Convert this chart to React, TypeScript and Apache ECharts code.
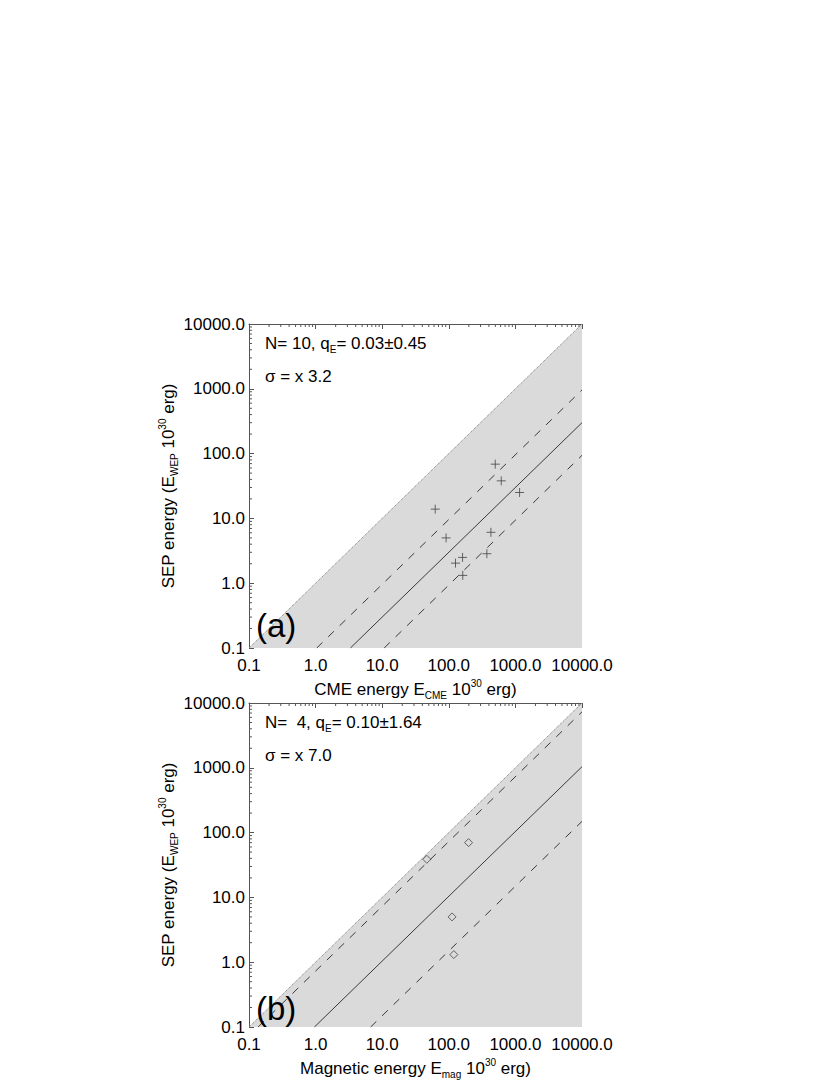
import { useEffect, useRef } from 'react'
import * as echarts from 'echarts'

// log axis decades and the minor steps inside each decade
const decades = [0.1, 1, 10, 100, 1000, 10000]
const minorSteps = [2, 3, 4, 5, 6, 7, 8, 9]

// panel (a): CME energy vs SEP energy (10^30 erg)
const cmeEnergy = [62.5, 91, 126, 161, 162, 373, 429, 498, 613, 1156]
const sepEnergyA = [13.9, 5.0, 2.04, 2.5, 1.32, 2.85, 6.1, 68.7, 38, 25.1]

// panel (b): magnetic energy vs SEP energy (10^30 erg)
const magEnergy = [46.8, 198, 112, 119]
const sepEnergyB = [38.7, 70, 5.0, 1.31]

// y = x line and the shaded region under it
const unityLine = [[0.1, 0.1], [10000, 10000]]
const shadeTriangle = [[0.1, 0.1], [10000, 10000], [10000, 0.1]]

// fit line and the +/- sigma lines, end points
const fitLineA = [[3.33, 0.1], [10000, 300]]
const upperLineA = [[1.04, 0.1], [10000, 960]]
const lowerLineA = [[10.7, 0.1], [10000, 94]]
const fitLineB = [[0.96, 0.1], [10000, 1040]]
const upperLineB = [[0.137, 0.1], [10000, 7300]]
const lowerLineB = [[6.7, 0.1], [10000, 149]]

const FONT = '"Liberation Sans", Arial, Helvetica, sans-serif'
const AXIS_COLOR = '#555'
const LINE_COLOR = '#3a3a3a'

const rich = {
  sub: { fontSize: 10, fontFamily: FONT, color: '#000', fill: '#000', verticalAlign: 'bottom' },
  sup: { fontSize: 10, fontFamily: FONT, color: '#000', fill: '#000', verticalAlign: 'top' },
}

const minorTickValues: number[] = []
decades.slice(0, -1).forEach(d => minorSteps.forEach(m => minorTickValues.push(d * m)))

interface Panel {
  top: number
  xs: number[]
  ys: number[]
  symbol: string
  symbolSize: number
  fit: number[][]
  upper: number[][]
  lower: number[][]
  xName: string
  stats: string
  sigma: string
  tag: string
  tagY: number
}

const panels: Panel[] = [
  {
    top: 324,
    xs: cmeEnergy,
    ys: sepEnergyA,
    symbol: 'path://M0,5L10,5M5,0L5,10',
    symbolSize: 9,
    fit: fitLineA,
    upper: upperLineA,
    lower: lowerLineA,
    xName: 'CME energy E{sub|CME} 10{sup|30} erg)',
    stats: 'N= 10, q{sub|E}= 0.03±0.45',
    sigma: 'σ = x 3.2',
    tag: '(a)',
    tagY: 625,
  },
  {
    top: 703,
    xs: magEnergy,
    ys: sepEnergyB,
    symbol: 'diamond',
    symbolSize: 8,
    fit: fitLineB,
    upper: upperLineB,
    lower: lowerLineB,
    xName: 'Magnetic energy E{sub|mag} 10{sup|30} erg)',
    stats: 'N=  4, q{sub|E}= 0.10±1.64',
    sigma: 'σ = x 7.0',
    tag: '(b)',
    tagY: 1008,
  },
]

const GRID_LEFT = 249
const GRID_W = 333
const GRID_H = 324

export default function App() {
  const chartRef = useRef<HTMLDivElement>(null)

  useEffect(() => {
    if (!chartRef.current) return
    const chart = echarts.init(chartRef.current, null, { renderer: 'svg' })

    const grids: any[] = []
    const xAxes: any[] = []
    const yAxes: any[] = []
    const series: any[] = []
    const graphics: any[] = []

    panels.forEach((p, i) => {
      grids.push({
        left: GRID_LEFT,
        top: p.top,
        width: GRID_W,
        height: GRID_H,
        containLabel: false,
        outerBoundsMode: 'none',
      })

      // bottom axis: labels only, its line is hidden under the shading
      xAxes.push({
        type: 'log',
        gridIndex: i,
        position: 'bottom',
        min: decades[0],
        max: decades[decades.length - 1],
        axisLine: { show: false },
        axisTick: { show: false },
        splitLine: { show: false },
        axisLabel: {
          margin: 9,
          fontSize: 17,
          fontFamily: FONT,
          color: '#000',
          formatter: (v: number) => v.toFixed(1),
        },
        name: p.xName,
        nameLocation: 'middle',
        nameGap: 30,
        nameTextStyle: { fontSize: 17, fontFamily: FONT, color: '#000', lineHeight: 22, rich },
      })
      // top axis: line and ticks
      xAxes.push({
        type: 'log',
        gridIndex: i,
        position: 'top',
        min: decades[0],
        max: decades[decades.length - 1],
        axisLine: { show: true, lineStyle: { color: AXIS_COLOR, width: 1 } },
        axisTick: { show: true, inside: true, length: 5, lineStyle: { color: AXIS_COLOR } },
        axisLabel: { show: false },
        splitLine: { show: false },
      })
      yAxes.push({
        type: 'log',
        gridIndex: i,
        position: 'left',
        min: decades[0],
        max: decades[decades.length - 1],
        axisLine: { show: true, lineStyle: { color: AXIS_COLOR, width: 1 } },
        axisTick: { show: true, inside: true, length: 5, lineStyle: { color: AXIS_COLOR } },
        splitLine: { show: false },
        axisLabel: {
          margin: 4,
          fontSize: 17,
          fontFamily: FONT,
          color: '#000',
          formatter: (v: number) => v.toFixed(1),
        },
        name: 'SEP energy (E{sub|WEP} 10{sup|30} erg)',
        nameLocation: 'middle',
        nameGap: 70,
        nameTextStyle: { fontSize: 17, fontFamily: FONT, color: '#000', lineHeight: 22, rich },
      })

      const xIdx = i * 2
      const yIdx = i

      // shaded region below y = x
      series.push({
        type: 'custom',
        xAxisIndex: xIdx,
        yAxisIndex: yIdx,
        z: 1,
        silent: true,
        data: shadeTriangle,
        renderItem: (params: any, api: any) => {
          if (params.dataIndex !== 0) return
          return {
            type: 'polygon',
            shape: { points: shadeTriangle.map(pt => api.coord(pt)) },
            style: { fill: '#dadada', stroke: 'none' },
          }
        },
      })

      // minor ticks on top and left axes
      series.push({
        type: 'custom',
        xAxisIndex: xIdx,
        yAxisIndex: yIdx,
        z: 3,
        silent: true,
        data: minorTickValues.map(v => [v, v]),
        renderItem: (_params: any, api: any) => {
          const v = api.value(0)
          const t = api.coord([v, decades[decades.length - 1]])
          const l = api.coord([decades[0], v])
          const style = { stroke: AXIS_COLOR, lineWidth: 1 }
          return {
            type: 'group',
            children: [
              { type: 'line', shape: { x1: t[0], y1: t[1], x2: t[0], y2: t[1] + 3 }, style },
              { type: 'line', shape: { x1: l[0], y1: l[1], x2: l[0] + 3, y2: l[1] }, style },
            ],
          }
        },
      })

      series.push({
        type: 'line',
        xAxisIndex: xIdx,
        yAxisIndex: yIdx,
        z: 2,
        data: unityLine,
        showSymbol: false,
        silent: true,
        lineStyle: { color: '#777', width: 1, type: 'dotted' },
      })
      series.push({
        type: 'line',
        xAxisIndex: xIdx,
        yAxisIndex: yIdx,
        z: 3,
        data: p.fit,
        showSymbol: false,
        silent: true,
        lineStyle: { color: LINE_COLOR, width: 1 },
      })
      ;[p.upper, p.lower].forEach(d => {
        series.push({
          type: 'line',
          xAxisIndex: xIdx,
          yAxisIndex: yIdx,
          z: 3,
          data: d,
          showSymbol: false,
          silent: true,
          lineStyle: { color: LINE_COLOR, width: 1, type: [8, 8] },
        })
      })
      series.push({
        type: 'scatter',
        xAxisIndex: xIdx,
        yAxisIndex: yIdx,
        z: 4,
        symbol: p.symbol,
        symbolSize: p.symbolSize,
        data: p.xs.map((x, k) => [x, p.ys[k]]),
        itemStyle: { color: 'transparent', borderColor: '#444', borderWidth: 1 },
      })

      graphics.push(
        {
          type: 'text',
          x: 265,
          y: p.top + 19,
          z: 10,
          style: {
            text: p.stats,
            fontSize: 17,
            fontFamily: FONT,
            fill: '#000',
            lineHeight: 22,
            verticalAlign: 'middle',
            rich,
          },
        },
        {
          type: 'text',
          x: 265,
          y: p.top + 52,
          z: 10,
          style: { text: p.sigma, fontSize: 17, fontFamily: FONT, fill: '#000', verticalAlign: 'middle' },
        },
        {
          type: 'text',
          x: 256,
          y: p.tagY,
          z: 10,
          style: { text: p.tag, fontSize: 33, fontFamily: FONT, fill: '#000', verticalAlign: 'middle' },
        }
      )
    })

    chart.setOption({
      animation: false,
      backgroundColor: '#fff',
      grid: grids,
      xAxis: xAxes,
      yAxis: yAxes,
      series,
      graphic: graphics,
    })

    return () => {
      chart.dispose()
    }
  }, [])

  return (
    <div
      ref={chartRef}
      style={{ position: 'absolute', left: 0, top: 0, width: 830, height: 1081 }}
    />
  )
}
